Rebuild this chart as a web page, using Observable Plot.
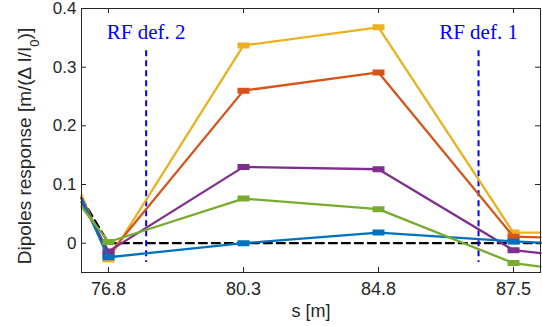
<!DOCTYPE html>
<html>
<head>
<meta charset="utf-8">
<script src="https://cdn.jsdelivr.net/npm/d3@7"></script>
<script src="https://cdn.jsdelivr.net/npm/@observablehq/plot@0.6"></script>
<style>
  html, body { margin: 0; padding: 0; background: #fff; }
</style>
</head>
<body>
<div id="chart"></div>
<script>
// Category positions (index space): the two outer points are the clipped edge continuations
const xPos = [0.8, 1, 2, 3, 4, 4.2];
const xTicks = [1, 2, 3, 4];
const xTickLabels = ["76.8", "80.3", "84.8", "87.5"];
const yTicks = [0, 0.1, 0.2, 0.3, 0.4];

const yellowVals = [0.082, -0.028, 0.337, 0.368, 0.018, 0.018];
const orangeVals = [0.078, -0.020, 0.260, 0.291, 0.011, 0.010];
const purpleVals = [0.070, -0.014, 0.130, 0.126, -0.012, -0.017];
const blueVals   = [0.076, -0.024, 0.000, 0.018, 0.003, 0.001];
const greenVals  = [0.062, 0.002, 0.076, 0.058, -0.034, -0.040];
const zeroRef    = [0.077, 0, 0, 0, 0, 0];

const seriesNames  = ["yellow", "orange", "purple", "blue", "green"];
const seriesColors = ["#EDB120", "#D95319", "#7E2F8E", "#0072BD", "#77AC30"];
const seriesValues = [yellowVals, orangeVals, purpleVals, blueVals, greenVals];

const rfX = [1.279, 3.741];
const rfLabels = ["RF def. 2", "RF def. 1"];
const rfTop = 0.328, rfBottom = -0.033, rfLabelY = 0.36;

const W = 542, H = 326;
const mL = 81, mR = 2, mT = 8, mB = 54;
const plotW = W - mL - mR, plotH = H - mT - mB;
const axisColor = "#262626";

// error-bar style marker symbol (pixel shape)
const errSymbol = {
  draw(ctx) {
    ctx.moveTo(-6, -2); ctx.lineTo(6, -2);
    ctx.moveTo(-6, 2); ctx.lineTo(6, 2);
    ctx.moveTo(-6, 0); ctx.lineTo(6, 0);
  }
};

const marks = [];
// inward ticks on all four sides
marks.push(Plot.tickX(xTicks, {x: d => d, stroke: axisColor, strokeWidth: 1, insetTop: plotH - 5}));
marks.push(Plot.tickX(xTicks, {x: d => d, stroke: axisColor, strokeWidth: 1, insetBottom: plotH - 5}));
marks.push(Plot.tickY(yTicks, {y: d => d, stroke: axisColor, strokeWidth: 1, insetRight: plotW - 5}));
marks.push(Plot.tickY(yTicks, {y: d => d, stroke: axisColor, strokeWidth: 1, insetLeft: plotW - 5}));

// reference zero dashed line
marks.push(Plot.line(xPos.map((x, i) => ({x, y: zeroRef[i]})), {
  x: "x", y: "y", stroke: "#000", strokeWidth: 2.2, strokeDasharray: "8,5"
}));

// RF dashed verticals
marks.push(Plot.ruleX(rfX, {x: d => d, y1: rfTop, y2: rfBottom, stroke: "#0000FF", strokeWidth: 2, strokeDasharray: "6,4"}));

// series
seriesValues.forEach((vals, s) => {
  const rows = xPos.map((x, i) => ({x, y: vals[i]}));
  marks.push(Plot.line(rows, {x: "x", y: "y", stroke: seriesColors[s], strokeWidth: 2.3}));
  marks.push(Plot.dot(rows.filter(r => xTicks.includes(r.x)), {
    x: "x", y: "y", symbol: errSymbol, stroke: seriesColors[s], strokeWidth: 2, fill: "none", r: 5
  }));
});

// RF labels
marks.push(Plot.text(rfX.map((x, i) => ({x, t: rfLabels[i]})), {
  x: "x", y: () => rfLabelY, text: "t", fill: "#0000FF",
  fontFamily: "Liberation Serif, Times New Roman, serif", fontSize: 21, textAnchor: "middle", lineAnchor: "middle"
}));

// axes labels
marks.push(Plot.axisX({ticks: xTicks, tickFormat: d => xTickLabels[xTicks.indexOf(d)], tickSize: 0, tickPadding: 10, label: null, fill: axisColor, fontSize: 18}));
marks.push(Plot.axisY({ticks: yTicks, tickFormat: d => d === 0 ? "0" : d.toFixed(1), tickSize: 0, tickPadding: 5, label: null, fill: axisColor, fontSize: 17}));
marks.push(Plot.text(["s [m]"], {frameAnchor: "bottom", dy: 39, text: d => d, fill: axisColor, fontSize: 18, lineAnchor: "middle"}));

marks.push(Plot.frame({stroke: axisColor, strokeWidth: 1}));

const chart = Plot.plot({
  width: W, height: H,
  marginLeft: mL, marginRight: mR, marginTop: mT, marginBottom: mB,
  x: {domain: [0.8, 4.2], axis: null},
  y: {domain: [-0.05, 0.4], axis: null},
  style: {fontFamily: "Liberation Sans, Arial, sans-serif", fontSize: "18px", color: axisColor, background: "#fff", overflow: "visible"},
  marks
});

const svg = d3.select(chart);
const yl = svg.append("text")
  .attr("transform", `translate(31,${mT + plotH / 2 + 6}) rotate(-90)`)
  .attr("text-anchor", "middle")
  .attr("fill", axisColor)
  .attr("font-size", 19)
  .attr("font-family", "Liberation Sans, Arial, sans-serif");
yl.append("tspan").text("Dipoles response [m/(Δ I/I");
yl.append("tspan").attr("baseline-shift", "sub").attr("font-size", 13).text("0");
yl.append("tspan").text(")]");

document.getElementById("chart").appendChild(chart);
</script>
</body>
</html>
